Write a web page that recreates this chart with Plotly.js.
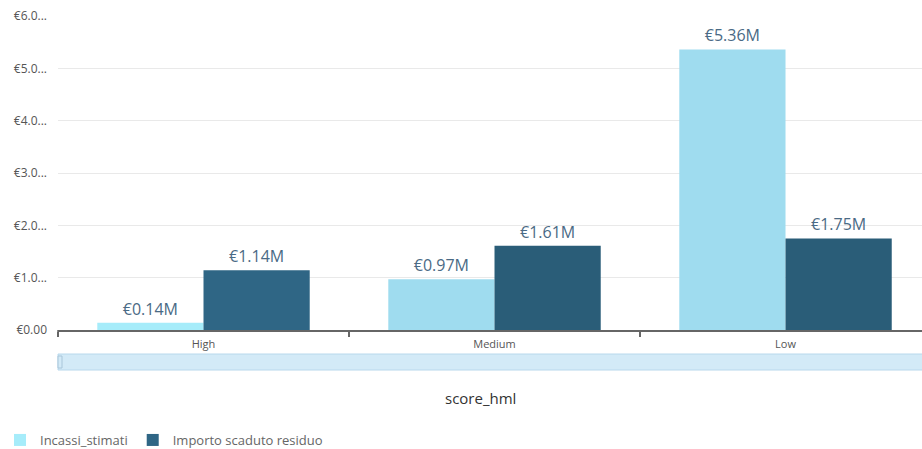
<!DOCTYPE html>
<html>
<head>
<meta charset="utf-8">
<script src="https://cdn.plot.ly/plotly-3.0.1.min.js"></script>
<style>html,body{margin:0;padding:0;background:#fff;overflow:hidden}#chart{width:922px;height:449px}</style>
</head>
<body>
<div id="chart"></div>
<script>
var categories = ["High", "Medium", "Low"];
var incassiStimati = [0.14, 0.97, 5.36];
var importoScaduto = [1.14, 1.61, 1.75];
var yTickValues = [0, 1, 2, 3, 4, 5, 6];
var yTickLabels = ["€0.00", "€1.0...", "€2.0...", "€3.0...", "€4.0...", "€5.0...", "€6.0..."];
var seriesNames = ["Incassi_stimati", "Importo scaduto residuo"];
var xTitle = "score_hml";

var labelFont = {family: "Open Sans, sans-serif", size: 16, color: "#4a6a85"};
var traces = [
  {
    type: "bar", name: seriesNames[0], x: categories, y: incassiStimati,
    marker: {color: ["#a6ecfa", "#9fdcef", "#9fdcef"]},
    texttemplate: "€%{y:.2f}M", textposition: "outside", textfont: labelFont,
    cliponaxis: false, hoverinfo: "none"
  },
  {
    type: "bar", name: seriesNames[1], x: categories, y: importoScaduto,
    marker: {color: ["#2f6685", "#2a5d78", "#2a5d78"]},
    texttemplate: "€%{y:.2f}M", textposition: "outside", textfont: labelFont,
    cliponaxis: false, hoverinfo: "none"
  }
];

var plotH = 314;
function py(pix) { return (330 - pix) / plotH; }
function px(pix) { return (pix - 58) / 864; }

var layout = {
  width: 922, height: 449,
  margin: {l: 58, r: 0, t: 16, b: 119, autoexpand: false},
  paper_bgcolor: "#fff", plot_bgcolor: "#fff",
  font: {family: "Open Sans, sans-serif", color: "#555"},
  barmode: "group", bargap: 0.27, bargroupgap: 0,
  showlegend: true,
  legend: {orientation: "h", xref: "container", yref: "container",
           x: -0.009, xanchor: "left", y: (449 - 440) / 449, yanchor: "middle",
           font: {size: 13, color: "#666"}, itemwidth: 30, tracegroupgap: 0},
  xaxis: {
    range: [-0.5, 2.469], fixedrange: true,
    showgrid: false, zeroline: false,
    showline: true, linecolor: "#666", linewidth: 1.5,
    ticks: "outside", tickson: "boundaries", ticklen: 5, tickcolor: "#666", tickwidth: 1.5,
    tickfont: {size: 11, color: "#555"}, ticklabelstandoff: 3
  },
  yaxis: {
    range: [0, 6], fixedrange: true,
    tickvals: yTickValues, ticktext: yTickLabels,
    showgrid: true, gridcolor: "#e9e9e9", gridwidth: 1,
    zeroline: false, showline: false, ticks: "",
    tickfont: {size: 12, color: "#555"}, ticklabelstandoff: 10
  },
  shapes: [
    {type: "rect", xref: "paper", yref: "paper", x0: 0, x1: 1.02, y0: py(354), y1: py(370),
     fillcolor: "#d3eaf7", line: {color: "#b8d8ec", width: 1}},
    {type: "rect", xref: "paper", yref: "paper", x0: px(58), x1: px(62), y0: py(356), y1: py(368),
     fillcolor: "#d3eaf7", line: {color: "#a9c6da", width: 1}},
    {type: "line", xref: "paper", yref: "paper", x0: 0, x1: 0, y0: 0, y1: py(335),
     line: {color: "#666", width: 1.5}}
  ],
  annotations: [
    {text: xTitle, xref: "paper", yref: "paper", x: px(480), y: py(398), showarrow: false,
     font: {size: 15, color: "#333"}, xanchor: "center", yanchor: "middle"}
  ]
};

Plotly.newPlot("chart", traces, layout, {displayModeBar: false, staticPlot: true});
</script>
</body>
</html>
